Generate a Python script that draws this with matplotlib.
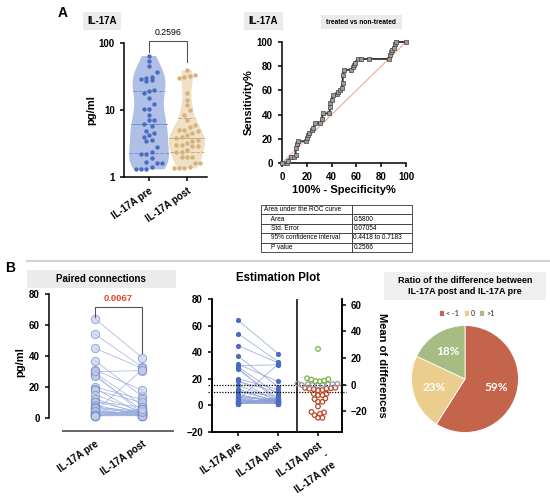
import numpy as np
import matplotlib
matplotlib.use('Agg')
import matplotlib.pyplot as plt
from matplotlib.patches import Rectangle
from matplotlib.lines import Line2D

# ---- data ----
groups = ['IL-17A pre', 'IL-17A post']
pre = [64, 54, 45, 37, 31, 29, 28, 27, 20, 19, 18, 15, 12.5, 10.5, 10.5, 8.5, 7, 7, 5.8, 4.8, 4.6, 3.9, 6.2,
       30, 3.6, 3.4, 2.8, 2.4, 2.2, 1.9, 1.7, 1.3,
       4.2, 1.3, 1.3, 1.6, 2.2, 1.4, 1.6]
post = [39, 33, 32, 14, 18, 8.4, 3, 5, 12, 2.5, 10, 4, 2, 3.5, 7, 1.6, 2.9, 4.2, 1.35, 2.4, 1.4, 1.35, 3.2,
        30.5, 3.0, 3.6, 2.4, 2.0, 2.9, 2.0, 1.35, 1.6,
        31, 5, 6, 4.5, 4.8, 3.8, 5.6]
p_violin = '0.2596'
p_paired = '0.0067'
mean_pre = 15.7      # upper dotted line (left axis)
mean_diff = -5.6     # lower dotted line (right axis)

roc_fpr = [0, 4, 5, 7, 10, 11, 11, 12, 13, 19, 20, 21, 22, 24, 25, 27, 31, 32, 33, 38, 39, 39, 40, 41, 44, 45,
           47, 48, 49, 49, 50, 56, 57, 58, 59, 61, 64, 70, 86, 87, 88, 89, 90, 91, 92, 100]
roc_tpr = [0, 0, 2, 5, 5, 7, 12, 16, 18, 18, 21, 23, 25, 27, 29, 33, 33, 36, 41, 41, 46, 50, 52, 56, 57, 59,
           60, 62, 66, 73, 77, 77, 79, 81, 83, 86, 86, 86, 86, 89, 92, 93, 95, 98, 100, 100]
roc_rows = [['Area under the ROC curve', ''],
            ['    Area', '0.5800'],
            ['    Std. Error', '0.07054'],
            ['    95% confidence interval', '0.4418 to 0.7183'],
            ['    P value', '0.2566']]

pie_labels = ['< -1', '0', '>1']
pie_share = [59, 23, 18]
pie_colors = ['#c3644b', '#ebcd8e', '#a6bc82']

W, H = 550, 498
plt.rcParams['font.family'] = ['Liberation Sans', 'DejaVu Sans']
plt.rcParams['font.weight'] = 'bold'
plt.rcParams['axes.labelweight'] = 'bold'
plt.rcParams['axes.linewidth'] = 1.1
plt.rcParams['xtick.major.width'] = 1.1
plt.rcParams['ytick.major.width'] = 1.1
plt.rcParams['xtick.major.size'] = 3
plt.rcParams['ytick.major.size'] = 3
plt.rcParams['xtick.labelsize'] = 7
plt.rcParams['ytick.labelsize'] = 7
plt.rcParams['axes.unicode_minus'] = True

fig = plt.figure(figsize=(W/100, H/100), dpi=100)

def rect(x0, y0, x1, y1):
    return [x0/W, 1-y1/H, (x1-x0)/W, (y1-y0)/H]

def T(x, y, s, **kw):
    kw.setdefault('ha', 'center'); kw.setdefault('va', 'center')
    return fig.text(x/W, 1-y/H, s, **kw)

def box(x0, y0, x1, y1, fc='#ebebeb'):
    fig.add_artist(Rectangle((x0/W, 1-y1/H), (x1-x0)/W, (y1-y0)/H, transform=fig.transFigure,
                             fc=fc, ec='none', zorder=0))

def swarm(ax, xc, ys, d):
    P = ax.transData.transform(np.column_stack([np.full(len(ys), xc), ys]))
    py = P[:, 1]
    placed = []
    offs = np.zeros(len(ys))
    for i in np.argsort(py):
        y = py[i]
        cands = [0.0]
        for x2, y2 in placed:
            dy = abs(y-y2)
            if dy < d:
                dx = np.sqrt(d*d-dy*dy)
                cands += [x2+dx, x2-dx]
        for c in sorted(cands, key=abs):
            if all((c-x2)**2+(y-y2)**2 >= d*d-1e-6 for x2, y2 in placed):
                break
        placed.append((c, y)); offs[i] = c
    sc = ax.transData.transform((1, 0))[0]-ax.transData.transform((0, 0))[0]
    return xc+offs/sc

def rows(ax, xc, ys, dy, dx):
    # GraphPad-like scatter: points binned into rows, spread sideways inside a row
    P = ax.transData.transform(np.column_stack([np.full(len(ys), xc), ys]))
    b = np.floor((P[:, 1]-P[:, 1].min())/dy).astype(int)
    offs = np.zeros(len(ys))
    for k in np.unique(b):
        idx = np.where(b == k)[0]
        idx = idx[np.argsort(P[idx, 1])]
        offs[idx] = (np.arange(len(idx))-(len(idx)-1)/2)*dx
    sc = ax.transData.transform((1, 0))[0]-ax.transData.transform((0, 0))[0]
    return xc+offs/sc

def violin(ax, x, vals, width, fc, lc):
    v = np.log10(vals)
    bw = 0.75*np.std(v, ddof=1)*len(v)**(-0.2)
    g = np.linspace(v.min(), v.max(), 200)
    dens = np.exp(-0.5*((g[:, None]-v[None, :])/bw)**2).sum(1)
    dens = dens/dens.max()*width/2
    ax.fill_betweenx(g, x-dens, x+dens, fc=fc, ec='none', zorder=1)
    for q, ls in [(25, '--'), (50, '-'), (75, '--')]:
        qv = np.percentile(v, q); w = np.interp(qv, g, dens)
        ax.plot([x-w, x+w], [qv, qv], color=lc, ls=ls, lw=0.7, zorder=2)

# ---------------- A: violin ----------------
T(63, 13, 'A', fontsize=10)
box(83, 12, 121, 30); T(102, 21, 'IL-17A', fontsize=7)
ax = fig.add_axes(rect(124, 43, 207, 177))
ax.set_xlim(-0.66, 1.53); ax.set_ylim(0, 2)
for sp in ['top', 'right']: ax.spines[sp].set_visible(False)
violin(ax, 0, pre, 1.05, '#b0bfe6', '#7d8fc8')
violin(ax, 1, post, 0.95, '#efe0c6', '#c9ad80')
for i, (vals, col) in enumerate([(pre, '#4a6cc0'), (post, '#d6b178')]):
    lv = np.log10(vals)
    ax.scatter(rows(ax, i, lv, 7.5, 5.3), lv, s=10, color=col, lw=0, zorder=3, clip_on=False)
ax.set_yticks([0, 1, 2]); ax.set_yticklabels(['1', '10', '100'])
ax.set_xticks([0, 1]); ax.set_xticklabels(groups, rotation=35, ha='right', rotation_mode='anchor')
ax.set_ylabel('pg/ml', fontsize=8, labelpad=2)
ax.plot([0, 0, 1, 1], [1.87, 2.03, 2.03, 1.72], color='#555', lw=0.8, clip_on=False)
ax.text(0.5, 2.16, p_violin, ha='center', va='center', fontsize=6.3, fontweight='normal')

# ---------------- A: ROC ----------------
box(244, 12, 283, 30); T(263, 21, 'IL-17A', fontsize=7)
box(321, 15, 402, 29); T(361, 22, 'treated vs non-treated', fontsize=4.8)
ax = fig.add_axes(rect(282, 42, 406, 163))
ax.set_xlim(0, 100); ax.set_ylim(0, 100)
for sp in ['top', 'right']: ax.spines[sp].set_visible(False)
ax.plot([0, 100], [0, 100], color='#f2a79c', lw=0.8)
ax.plot(roc_fpr, roc_tpr, color='#3a3a3a', lw=1.4, marker='s', ms=2.8, mfc='#9c9c9c', mec='#404040',
        mew=0.5, clip_on=False, zorder=3)
ax.set_xticks(range(0, 101, 20)); ax.set_yticks(range(0, 101, 20))
ax.set_xlabel('100% - Specificity%', fontsize=8, labelpad=2)
ax.set_ylabel('Sensitivity%', fontsize=8, labelpad=2)

ax = fig.add_axes(rect(261, 205, 412, 252)); ax.axis('off')
tbl = ax.table(cellText=roc_rows, colWidths=[0.6, 0.4], cellLoc='left', bbox=[0, 0, 1, 1])
tbl.auto_set_font_size(False); tbl.set_fontsize(4.7)
for cell in tbl.get_celld().values():
    cell.PAD = 0.03; cell.set_linewidth(0.6); cell.set_edgecolor('#333')
    cell.get_text().set_fontweight('normal')

fig.add_artist(Line2D([27/W, 1], [1-261/H]*2, color='#d4d4d4', lw=1.6, transform=fig.transFigure))

# ---------------- B: paired ----------------
T(10, 268, 'B', fontsize=10)
box(27, 270, 176, 288); T(101, 279, 'Paired connections', fontsize=7)
ax = fig.add_axes(rect(49, 294, 173, 431))
ax.set_xlim(-0.98, 1.66); ax.set_ylim(-8.4, 80)
for sp in ['top', 'right']: ax.spines[sp].set_visible(False)
ax.spines['left'].set_bounds(0, 80); ax.spines['bottom'].set_bounds(-0.68, 1.66)
ax.spines['bottom'].set_color('#666'); ax.spines['bottom'].set_linewidth(1.4)
for a, b in zip(pre, post):
    ax.plot([0, 1], [a, b], color='#9fb0de', lw=0.5, zorder=1)
ax.scatter(np.zeros(len(pre)), pre, s=36, fc='#c3cdea', ec='#6f84c2', lw=0.7, alpha=0.65, zorder=2)
ax.scatter(np.ones(len(post)), post, s=36, fc='#c3cdea', ec='#6f84c2', lw=0.7, alpha=0.65, zorder=2)
ax.set_yticks(range(0, 81, 20))
ax.set_xticks([0, 1]); ax.set_xticklabels(groups, rotation=35, ha='right', rotation_mode='anchor')
ax.tick_params(axis='x', length=0, pad=6)
ax.set_ylabel('pg/ml', fontsize=8, labelpad=3)
ax.plot([0, 0, 1, 1], [65, 71.6, 71.6, 42], color='#555', lw=0.8, clip_on=False)
ax.text(0.5, 76.8, p_paired, ha='center', va='center', fontsize=6.8, color='#e8452c')

# ---------------- B: estimation ----------------
T(278, 278, 'Estimation Plot', fontsize=8.3)
ax = fig.add_axes(rect(212, 299, 342, 432))
ax.set_xlim(-0.65, 2.6); ax.set_ylim(-20, 80)
ax.spines['top'].set_visible(False)
ax.axvline(1.475, color='k', lw=1.1)
for a, b in zip(pre, post):
    ax.plot([0, 1], [a, b], color='#8ea2d8', lw=0.5, zorder=1)
ax.scatter(np.zeros(len(pre)), pre, s=14, color='#4a6cc0', lw=0, zorder=2)
ax.scatter(np.ones(len(post)), post, s=14, color='#4a6cc0', lw=0, zorder=2)
ax.set_yticks(range(-20, 81, 20))
ax.set_xticks([0, 1, 2])
ax.set_xticklabels(groups+['IL-17A post\n-\nIL-17A pre'], rotation=35, ha='right',
                   rotation_mode='anchor', multialignment='right')
ax2 = ax.twinx()
ax2.set_ylim(-20-mean_pre, 80-mean_pre)
ax2.spines['top'].set_visible(False)
ax2.set_yticks(range(-20, 61, 20))
diff = np.array(post)-np.array(pre)
dcol = np.where(diff < -1, '#c0492b', np.where(diff > 1, '#79b34a', '#9b9b9b'))
ax2.scatter(swarm(ax2, 2, diff, 4.4), diff, s=11, fc='none', ec=dcol, lw=0.9, zorder=3)
ax2.axhline(0, color='k', ls=(0, (1, 1.2)), lw=0.9, xmin=-0.03, xmax=1.03, clip_on=False)
ax2.axhline(mean_diff, color='k', ls=(0, (1, 1.2)), lw=0.9, xmin=-0.03, xmax=1.03, clip_on=False)
ax2.set_ylabel('Mean of differences', fontsize=8, rotation=270, labelpad=14)

# ---------------- B: pie ----------------
box(384, 272, 546, 300, fc='#efefef')
T(465, 286, 'Ratio of the difference between\nIL-17A post and IL-17A pre', fontsize=6.5, linespacing=1.15)
ax = fig.add_axes(rect(411, 325, 519, 433))
wedges, _, autot = ax.pie(pie_share, colors=pie_colors, startangle=90, counterclock=False,
                          autopct=lambda p: f'{round(p)}%', pctdistance=0.6,
                          wedgeprops=dict(ec='white', lw=0.6))
for t in autot:
    t.set_color('white'); t.set_fontsize(8.5); t.set_family(['Lato', 'DejaVu Sans']); t.set_fontweight('bold')
ax.set_xlim(-1.01, 1.01); ax.set_ylim(-1.01, 1.01); ax.set_aspect('equal')
fig.legend(wedges, pie_labels, loc='center', bbox_to_anchor=(467/W, 1-313/H), ncol=3, frameon=False,
           handlelength=0.7, handleheight=0.7, handletextpad=0.3, columnspacing=0.6,
           prop=dict(family=['Lato', 'DejaVu Sans'], size=5.2))
for t in fig.legends[0].get_texts(): t.set_color('#595959')

fig.savefig('out.png', dpi=100)
